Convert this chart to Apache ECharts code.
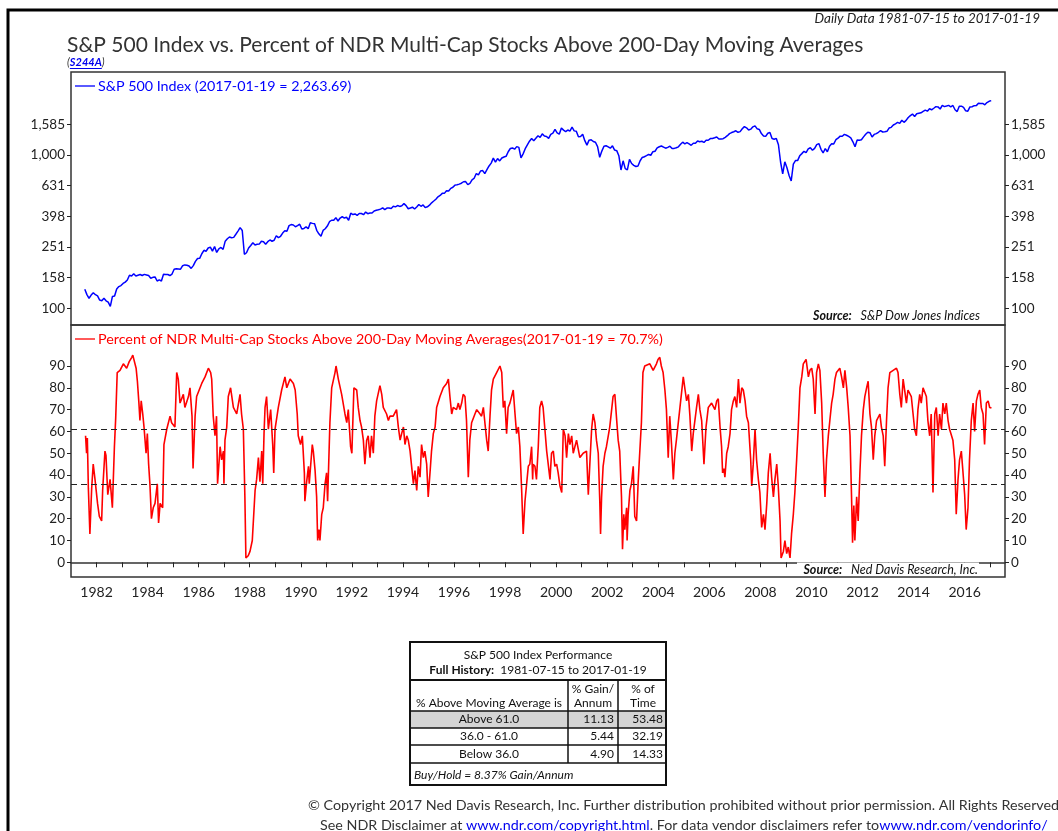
<!DOCTYPE html>
<html>
<head>
<meta charset="utf-8">
<title>S&P 500 Index vs. Percent of NDR Multi-Cap Stocks Above 200-Day Moving Averages</title>
<script src="https://cdn.jsdelivr.net/npm/echarts@6.0.0/dist/echarts.min.js"></script>
<style>
  html, body { margin: 0; padding: 0; background: #fff; }
  #chart { width: 1058px; height: 831px; }
</style>
</head>
<body>
<div id="chart"></div>
<script>
const FONT = 'Lato, "Noto Sans", sans-serif'

// S&P 500, one value a month, July 1981 .. January 2017
const spxStart = 1981.54
const spxValues = [
  133, 122.8, 116.2, 121.9, 126.4, 122.6,
  120.4, 113.1, 112.0, 116.4, 111.9, 109.6, 103.0, 119.5, 120.4, 133.7, 138.5, 140.6,
  145.3, 148.1, 153.0, 164.4, 162.4, 168.1, 162.6, 164.4, 166.1, 163.6, 166.4, 164.9,
  163.4, 157.1, 159.2, 160.1, 150.6, 153.2, 150.7, 166.7, 166.1, 166.1, 163.6, 167.2,
  179.6, 181.2, 180.7, 179.8, 189.6, 191.9, 190.9, 188.6, 182.1, 189.8, 202.2, 211.3,
  211.8, 226.9, 238.9, 235.5, 247.4, 250.8, 236.1, 252.9, 231.3, 244.0, 249.2, 242.2,
  274.1, 284.2, 291.7, 288.4, 290.1, 304.0, 318.7, 336.0, 321.8, 225.0, 230.3, 247.1,
  257.1, 267.8, 258.9, 261.3, 262.2, 273.5, 272.0, 261.5, 271.9, 279.0, 273.7, 277.7,
  297.5, 288.9, 294.9, 309.6, 320.5, 318.0, 346.1, 351.5, 349.2, 340.4, 346.0, 353.4,
  329.1, 331.9, 339.9, 330.8, 361.2, 358.0, 356.2, 322.6, 306.1, 295.5, 322.2, 330.2,
  343.9, 367.1, 375.2, 375.3, 389.8, 371.2, 387.8, 395.4, 387.9, 392.5, 375.2, 417.1,
  408.8, 412.7, 403.7, 415.0, 415.4, 408.1, 424.2, 414.0, 417.8, 418.7, 431.4, 435.7,
  438.8, 443.4, 451.7, 440.2, 450.2, 450.5, 448.1, 463.6, 458.9, 467.8, 461.8, 466.5,
  481.6, 467.1, 445.8, 450.9, 456.5, 444.3, 458.3, 475.5, 462.7, 472.4, 453.7, 459.3,
  470.4, 487.4, 500.7, 514.7, 533.4, 544.8, 562.1, 561.9, 584.4, 581.5, 605.4, 615.9,
  636.0, 640.4, 645.5, 654.2, 669.1, 670.6, 640.0, 652.0, 687.3, 705.3, 757.0, 740.7,
  786.2, 790.8, 757.1, 801.3, 848.3, 885.1, 954.3, 899.5, 947.3, 914.6, 955.4, 970.4,
  980.3, 1049.3, 1101.8, 1111.8, 1090.8, 1133.8, 1120.7, 957.3, 1017.0, 1098.7, 1163.6, 1229.2,
  1279.6, 1238.3, 1286.4, 1335.2, 1301.8, 1372.7, 1328.7, 1320.4, 1282.7, 1362.9, 1389.0, 1469.3,
  1394.5, 1366.4, 1498.6, 1452.4, 1420.6, 1454.6, 1430.8, 1517.7, 1436.5, 1429.4, 1315.2, 1320.3,
  1366.0, 1239.9, 1160.3, 1249.5, 1255.8, 1224.4, 1211.2, 1133.6, 966.0, 1059.8, 1139.5, 1148.1,
  1130.2, 1106.7, 1147.4, 1076.9, 1067.1, 989.8, 798.0, 916.1, 815.3, 800.0, 936.3, 879.8,
  855.7, 841.2, 848.2, 916.9, 963.6, 974.5, 990.3, 1008.0, 996.0, 1050.7, 1058.2, 1111.9,
  1131.1, 1144.9, 1126.2, 1107.3, 1120.7, 1140.8, 1101.7, 1104.2, 1114.6, 1130.2, 1173.8, 1211.9,
  1181.3, 1203.6, 1180.6, 1156.9, 1191.5, 1191.3, 1234.2, 1220.3, 1228.8, 1207.0, 1249.5, 1248.3,
  1280.1, 1280.7, 1294.8, 1310.6, 1270.1, 1270.2, 1276.7, 1303.8, 1335.9, 1377.9, 1400.6, 1418.3,
  1438.2, 1406.8, 1420.9, 1482.4, 1530.6, 1503.4, 1455.3, 1474.0, 1526.8, 1549.4, 1481.1, 1468.4,
  1378.6, 1330.6, 1322.7, 1385.6, 1400.4, 1280.0, 1267.4, 1282.8, 1166.4, 900.0, 752.4, 903.3,
  825.9, 735.1, 676.5, 872.8, 919.1, 919.3, 987.5, 1020.6, 1057.1, 1036.2, 1095.6, 1115.1,
  1073.9, 1104.5, 1169.4, 1186.7, 1089.4, 1030.7, 1101.6, 1049.3, 1141.2, 1183.3, 1180.6, 1257.6,
  1286.1, 1327.2, 1325.8, 1363.6, 1345.2, 1320.6, 1292.3, 1218.9, 1131.4, 1253.3, 1247.0, 1257.6,
  1312.4, 1365.7, 1408.5, 1397.9, 1310.3, 1362.2, 1379.3, 1406.6, 1440.7, 1412.2, 1416.2, 1426.2,
  1498.1, 1514.7, 1569.2, 1597.6, 1630.7, 1606.3, 1685.7, 1633.0, 1681.6, 1756.5, 1805.8, 1848.4,
  1782.6, 1859.5, 1872.3, 1884.0, 1923.6, 1960.2, 1930.7, 2003.4, 1972.3, 2018.1, 2067.6, 2058.9,
  1995.0, 2104.5, 2067.9, 2085.5, 2107.4, 2063.1, 2103.8, 1972.2, 1920.0, 2079.4, 2080.4, 2043.9,
  1940.2, 1932.2, 2059.7, 2065.3, 2097.0, 2098.9, 2173.6, 2171.0, 2168.3, 2126.2, 2198.8, 2238.8,
  2263.69
]

// percent of stocks above their 200-day average
const pctYears = [
  1981.57, 1981.61, 1981.64, 1981.68, 1981.74, 1981.81, 1981.87, 1981.94,
  1982.04, 1982.11, 1982.20, 1982.24, 1982.33, 1982.37, 1982.44, 1982.53, 1982.62, 1982.70, 1982.75, 1982.81, 1982.92,
  1983.05, 1983.18, 1983.28, 1983.38, 1983.42, 1983.55, 1983.60, 1983.66, 1983.70, 1983.75, 1983.81, 1983.86, 1983.94, 1983.99,
  1984.04, 1984.09, 1984.15, 1984.22, 1984.29, 1984.38, 1984.43, 1984.49, 1984.55, 1984.59, 1984.64, 1984.75, 1984.88, 1984.94,
  1985.07, 1985.14, 1985.20, 1985.27, 1985.40, 1985.46, 1985.60, 1985.66, 1985.74, 1985.78, 1985.86, 1985.92,
  1986.12, 1986.25, 1986.38, 1986.47, 1986.51, 1986.57, 1986.64, 1986.70, 1986.74, 1986.84, 1986.90, 1986.97, 1986.99,
  1987.03, 1987.10, 1987.16, 1987.25, 1987.36, 1987.49, 1987.62, 1987.68, 1987.75, 1987.81, 1987.85, 1987.94,
  1988.01, 1988.10, 1988.21, 1988.27, 1988.34, 1988.40, 1988.47, 1988.51, 1988.56, 1988.60, 1988.66, 1988.73, 1988.82, 1988.90, 1988.94, 1988.99,
  1989.12, 1989.25, 1989.38, 1989.45, 1989.58, 1989.71, 1989.78, 1989.86, 1989.90, 1989.99,
  1990.06, 1990.14, 1990.16, 1990.23, 1990.30, 1990.33, 1990.45, 1990.49, 1990.56, 1990.62, 1990.66, 1990.71, 1990.75, 1990.82, 1990.88, 1990.95,
  1991.01, 1991.05, 1991.14, 1991.21, 1991.34, 1991.38, 1991.47, 1991.60, 1991.73, 1991.80, 1991.86, 1991.95,
  1992.00, 1992.08, 1992.19, 1992.25, 1992.32, 1992.38, 1992.45, 1992.51, 1992.58, 1992.64, 1992.71, 1992.77, 1992.84, 1992.90, 1992.97,
  1993.10, 1993.17, 1993.23, 1993.36, 1993.43, 1993.49, 1993.62, 1993.75, 1993.82, 1993.89, 1993.95,
  1994.02, 1994.08, 1994.15, 1994.21, 1994.28, 1994.34, 1994.41, 1994.47, 1994.54, 1994.60, 1994.67, 1994.73, 1994.80, 1994.86, 1994.93, 1994.99,
  1995.06, 1995.12, 1995.19, 1995.26, 1995.32, 1995.45, 1995.58, 1995.71, 1995.78, 1995.84, 1995.91, 1995.97,
  1996.10, 1996.17, 1996.23, 1996.30, 1996.36, 1996.43, 1996.49, 1996.56, 1996.62, 1996.69, 1996.82, 1996.89,
  1997.02, 1997.08, 1997.15, 1997.21, 1997.28, 1997.34, 1997.41, 1997.47, 1997.54, 1997.67, 1997.80, 1997.87, 1997.93, 1997.99,
  1998.06, 1998.12, 1998.19, 1998.32, 1998.39, 1998.45, 1998.52, 1998.58, 1998.65, 1998.71, 1998.78, 1998.85, 1998.91, 1998.97,
  1999.04, 1999.08, 1999.10, 1999.17, 1999.23, 1999.30, 1999.36, 1999.43, 1999.49, 1999.56, 1999.63, 1999.69, 1999.76, 1999.82, 1999.89, 1999.95,
  2000.02, 2000.08, 2000.15, 2000.22, 2000.28, 2000.35, 2000.41, 2000.48, 2000.54, 2000.61, 2000.67, 2000.80, 2000.93,
  2001.06, 2001.19, 2001.26, 2001.32, 2001.39, 2001.45, 2001.52, 2001.58, 2001.65, 2001.71, 2001.74, 2001.78, 2001.84, 2001.91, 2001.97,
  2002.10, 2002.23, 2002.30, 2002.36, 2002.43, 2002.49, 2002.56, 2002.60, 2002.65, 2002.69, 2002.76, 2002.78, 2002.82, 2002.89, 2002.95,
  2003.02, 2003.08, 2003.15, 2003.21, 2003.25, 2003.34, 2003.40, 2003.47, 2003.67, 2003.80, 2003.93, 2003.99,
  2004.06, 2004.12, 2004.19, 2004.26, 2004.32, 2004.39, 2004.45, 2004.52, 2004.59, 2004.65, 2004.71, 2004.85, 2004.98,
  2005.05, 2005.11, 2005.18, 2005.24, 2005.31, 2005.37, 2005.50, 2005.57, 2005.63, 2005.70, 2005.79, 2005.87, 2005.96,
  2006.09, 2006.22, 2006.29, 2006.35, 2006.42, 2006.48, 2006.52, 2006.57, 2006.61, 2006.68, 2006.74, 2006.81, 2006.87, 2006.94,
  2007.00, 2007.07, 2007.14, 2007.20, 2007.27, 2007.33, 2007.40, 2007.46, 2007.53, 2007.62, 2007.66, 2007.72, 2007.79, 2007.85, 2007.92, 2007.98,
  2008.05, 2008.12, 2008.18, 2008.25, 2008.31, 2008.38, 2008.44, 2008.51, 2008.57, 2008.64, 2008.70, 2008.77, 2008.81, 2008.90, 2008.96,
  2009.03, 2009.09, 2009.16, 2009.22, 2009.29, 2009.35, 2009.42, 2009.48, 2009.55, 2009.62, 2009.68, 2009.79, 2009.88, 2009.94,
  2010.01, 2010.07, 2010.14, 2010.20, 2010.27, 2010.33, 2010.40, 2010.46, 2010.53, 2010.59, 2010.66, 2010.72, 2010.79, 2010.85, 2010.92, 2010.98,
  2011.11, 2011.18, 2011.25, 2011.31, 2011.38, 2011.44, 2011.51, 2011.57, 2011.61, 2011.66, 2011.70, 2011.77, 2011.83, 2011.90, 2011.96,
  2012.03, 2012.09, 2012.16, 2012.22, 2012.29, 2012.35, 2012.42, 2012.48, 2012.55, 2012.68, 2012.74, 2012.81, 2012.87, 2012.94,
  2013.00, 2013.07, 2013.20, 2013.33, 2013.39, 2013.46, 2013.52, 2013.59, 2013.72, 2013.78, 2013.91, 2013.98,
  2014.04, 2014.11, 2014.17, 2014.24, 2014.30, 2014.37, 2014.50, 2014.56, 2014.63, 2014.69, 2014.76, 2014.83, 2014.89, 2014.96,
  2015.02, 2015.09, 2015.15, 2015.22, 2015.28, 2015.35, 2015.41, 2015.54, 2015.61, 2015.67, 2015.74, 2015.80, 2015.87, 2015.93,
  2016.00, 2016.06, 2016.13, 2016.19, 2016.26, 2016.33, 2016.39, 2016.46, 2016.52, 2016.59, 2016.65, 2016.72, 2016.78, 2016.85, 2016.92, 2016.98, 2017.05
]
const pctValues = [
  58, 50, 57, 34, 13, 34, 45, 38,
  27, 21, 19, 33, 51, 49, 31, 38, 25, 53, 66, 87, 88,
  91, 89, 92, 94, 95, 89, 83, 73, 65, 74, 68, 62, 50, 59,
  45, 36, 20, 25, 27, 36, 18, 27, 27, 25, 54, 61, 67, 64,
  62, 87, 84, 73, 77, 71, 76, 80, 67, 43, 67, 76,
  82, 85, 89, 87, 84, 67, 58, 67, 36, 53, 47, 51, 36,
  56, 62, 76, 80, 71, 68, 77, 68, 61, 30, 2, 3,
  5, 10, 33, 38, 48, 37, 51, 36, 59, 71, 76, 61, 70, 54, 41, 61,
  71, 79, 85, 80, 84, 82, 79, 68, 58, 54,
  58, 41, 28, 37, 44, 36, 54, 51, 42, 30, 10, 15, 10, 22, 25, 36,
  41, 28, 64, 80, 87, 90, 84, 77, 68, 64, 70, 53,
  50, 80, 79, 71, 65, 62, 56, 45, 56, 58, 48, 58, 50, 67, 74,
  81, 77, 71, 68, 65, 67, 67, 70, 62, 56, 59,
  62, 54, 58, 56, 51, 44, 36, 42, 33, 44, 39, 54, 48, 51, 45, 30,
  41, 51, 59, 62, 71, 76, 80, 82, 84, 76, 68, 71,
  70, 73, 70, 73, 77, 76, 65, 39, 56, 64, 68, 70,
  68, 67, 71, 64, 56, 51, 67, 79, 84, 87, 90, 87, 71, 74,
  59, 71, 73, 79, 68, 59, 62, 53, 33, 13, 28, 28, 44, 45,
  53, 38, 45, 44, 38, 53, 71, 74, 71, 61, 51, 45, 38, 50, 51, 44,
  45, 41, 35, 32, 61, 58, 48, 59, 54, 58, 50, 56, 48,
  50, 51, 31, 45, 61, 68, 64, 56, 50, 28, 13, 30, 44, 50, 53,
  62, 76, 77, 67, 56, 51, 30, 6, 22, 15, 25, 10, 22, 33, 36,
  44, 21, 19, 36, 45, 64, 87, 90, 91, 88, 91, 93,
  94, 90, 87, 79, 70, 48, 67, 54, 38, 50, 56, 71, 85,
  79, 74, 77, 67, 51, 59, 71, 77, 70, 65, 45, 62, 71,
  73, 70, 74, 75, 62, 53, 41, 43, 39, 50, 53, 59, 70, 74,
  76, 71, 84, 73, 80, 79, 74, 67, 64, 47, 35, 45, 61, 47, 38, 32,
  16, 22, 15, 27, 41, 50, 39, 30, 38, 45, 35, 19, 2, 5, 10,
  4, 7, 2, 13, 22, 32, 47, 61, 80, 85, 91, 93, 85, 88,
  89, 84, 68, 87, 91, 88, 73, 50, 30, 47, 58, 65, 73, 77, 84, 87,
  89, 85, 80, 88, 80, 71, 58, 30, 9, 26, 10, 30, 19, 42, 58,
  70, 76, 80, 83, 68, 62, 47, 58, 65, 68, 62, 58, 44, 65,
  80, 87, 88, 89, 87, 77, 71, 84, 73, 79, 76, 68,
  61, 58, 70, 77, 73, 80, 76, 65, 58, 68, 32, 68, 71, 58,
  68, 61, 73, 68, 73, 65, 61, 56, 47, 22, 38, 47, 51, 42,
  31, 15, 25, 47, 65, 73, 60, 74, 77, 79, 71, 68, 54, 73, 74, 71, 70.7
]

const thresholds = [61, 36]
const spxTicks = [100, 158.49, 251.19, 398.11, 630.96, 1000, 1584.89]
const pctTicks = [0, 10, 20, 30, 40, 50, 60, 70, 80, 90]
const yearTicks = [1982, 1983, 1984, 1985, 1986, 1987, 1988, 1989, 1990, 1991, 1992, 1993,
  1994, 1995, 1996, 1997, 1998, 1999, 2000, 2001, 2002, 2003, 2004, 2005, 2006, 2007,
  2008, 2009, 2010, 2011, 2012, 2013, 2014, 2015, 2016, 2017]
const yearLabels = [1982, 1984, 1986, 1988, 1990, 1992, 1994, 1996, 1998, 2000, 2002,
  2004, 2006, 2008, 2010, 2012, 2014, 2016]

// performance table
const tableRows = ['Above 61.0', '36.0 - 61.0', 'Below 36.0']
const gainPerAnnum = ['11.13', '5.44', '4.90']
const pctOfTime = ['53.48', '32.19', '14.33']

const spxData = spxValues.map((v, i) => [spxStart + i / 12, v])
const pctData = pctYears.map((y, i) => [y, pctValues[i]])

const ctx = document.createElement('canvas').getContext('2d')
const measure = (text, font) => { ctx.font = font; return ctx.measureText(text).width }

// one line of text made of several runs, links underlined
const textRun = (x, y, parts, font, align) => {
  const widths = parts.map(p => measure(p.text, p.font || font))
  const total = widths.reduce((s, w) => s + w, 0)
  let cx = align === 'right' ? x - total : align === 'center' ? x - total / 2 : x
  const els = []
  parts.forEach((p, i) => {
    const f = p.font || font
    els.push({ type: 'text', x: cx, y, z: 50, style: { text: p.text, font: f, fill: p.color || '#333', verticalAlign: 'middle' } })
    if (p.link) els.push({ type: 'line', z: 50, shape: { x1: cx, y1: y + 6.5, x2: cx + widths[i], y2: y + 6.5 }, style: { stroke: p.color, lineWidth: 1 } })
    cx += widths[i]
  })
  return els
}

const txt = (x, y, text, font, align, fill) => ({
  type: 'text', x, y, z: 50,
  style: { text, font, fill: fill || '#111', textAlign: align || 'left', verticalAlign: 'middle' }
})

const hline = (x1, x2, y, w) => ({ type: 'line', z: 40, shape: { x1, y1: y, x2, y2: y }, style: { stroke: '#111', lineWidth: w || 1.5 } })
const vline = (x, y1, y2, w) => ({ type: 'line', z: 40, shape: { x1: x, y1, x2: x, y2 }, style: { stroke: '#111', lineWidth: w || 1.5 } })

const tFont = '12px ' + FONT
const rowY = [719, 736, 754]
const table = [
  { type: 'rect', z: 30, shape: { x: 410, y: 642, width: 256, height: 143 }, style: { fill: '#fff', stroke: '#111', lineWidth: 2 } },
  { type: 'rect', z: 35, shape: { x: 411, y: 711, width: 254, height: 17 }, style: { fill: '#d4d4d4' } },
  hline(410, 666, 680, 2), hline(410, 666, 711), hline(410, 666, 728), hline(410, 666, 745), hline(410, 666, 763),
  vline(568, 680, 763), vline(618, 680, 763),
  txt(538, 655, 'S&P 500 Index Performance', tFont, 'center'),
  ...textRun(538, 670, [
    { text: 'Full History:', font: 'bold ' + tFont, color: '#111' },
    { text: '  1981-07-15 to 2017-01-19', color: '#111' }
  ], tFont, 'center'),
  txt(489, 703, '% Above Moving Average is', tFont, 'center'),
  txt(593, 689, '% Gain/', tFont, 'center'), txt(593, 703, 'Annum', tFont, 'center'),
  txt(643, 689, '% of', tFont, 'center'), txt(643, 703, 'Time', tFont, 'center'),
  ...tableRows.map((r, i) => txt(489, rowY[i], r, tFont, 'center')),
  ...gainPerAnnum.map((v, i) => txt(614, rowY[i], v, tFont, 'right')),
  ...pctOfTime.map((v, i) => txt(663, rowY[i], v, tFont, 'right')),
  txt(414, 775, 'Buy/Hold = 8.37% Gain/Annum', 'italic ' + tFont, 'left')
]

// source notes sit on a small white patch so nothing shows through the lettering
const sFont = 'italic 12.5px ' + FONT
const sourceText = (x, y, name) => [
  { type: 'rect', z: 45, shape: { x: x - 181, y: y - 7, width: 182, height: 12 }, style: { fill: '#fff' } },
  ...textRun(x, y, [
    { text: 'Source:', font: 'italic bold 12.5px ' + FONT, color: '#111' },
    { text: '   ' + name, color: '#111' }
  ], sFont, 'right')
]

const cFont = '14.3px ' + FONT
const graphic = [
  { type: 'rect', z: 100, shape: { x: 8, y: 10, width: 1200, height: 1000 }, style: { fill: 'none', stroke: '#000', lineWidth: 3 } },
  txt(1040, 19, 'Daily Data 1981-07-15 to 2017-01-19', 'italic 13.5px ' + FONT, 'right', '#222'),
  txt(67, 45, 'S&P 500 Index vs. Percent of NDR Multi-Cap Stocks Above 200-Day Moving Averages', '21px ' + FONT, 'left', '#333'),
  ...textRun(67, 62, [
    { text: '(' },
    { text: 'S244A', color: '#0000ee', link: true, font: 'italic bold 11px ' + FONT },
    { text: ')' }
  ], 'italic 11px ' + FONT),
  { type: 'line', z: 50, shape: { x1: 75, y1: 86, x2: 95, y2: 86 }, style: { stroke: '#0000ff', lineWidth: 1.3 } },
  txt(98, 86, 'S&P 500 Index (2017-01-19 = 2,263.69)', '14.3px ' + FONT, 'left', '#0000ff'),
  { type: 'line', z: 50, shape: { x1: 75, y1: 339, x2: 95, y2: 339 }, style: { stroke: '#ff0000', lineWidth: 1.3 } },
  txt(98, 339, 'Percent of NDR Multi-Cap Stocks Above 200-Day Moving Averages(2017-01-19 = 70.7%)', '14.3px ' + FONT, 'left', '#ff0000'),
  ...sourceText(980, 316, 'S&P Dow Jones Indices'),
  ...sourceText(978, 569.5, 'Ned Davis Research, Inc.'),
  ...table,
  txt(308, 805, '\u00a9 Copyright 2017 Ned Davis Research, Inc. Further distribution prohibited without prior permission. All Rights Reserved.', cFont, 'left', '#333'),
  ...textRun(320, 825, [
    { text: 'See NDR Disclaimer at ' },
    { text: 'www.ndr.com/copyright.html', color: '#0000ee', link: true },
    { text: '. For data vendor disclaimers refer to' },
    { text: 'www.ndr.com/vendorinfo/', color: '#0000ee', link: true }
  ], cFont)
]

const label = { color: '#222', fontSize: 13.5, fontFamily: FONT }
const tick = { lineStyle: { color: '#222', width: 1 } }
const fmtSpx = v => Math.round(v).toLocaleString('en-US')

const spxAxis = position => ({
  gridIndex: 0, type: 'log', logBase: 10, min: 77.8, max: 3478, position,
  axisLine: { show: false },
  axisTick: { show: true, inside: false, length: 4, customValues: spxTicks, ...tick },
  axisLabel: { ...label, margin: 6, customValues: spxTicks, formatter: fmtSpx },
  splitLine: { show: false }
})
const pctAxis = position => ({
  gridIndex: 1, type: 'value', min: -6.74, max: 108.8, position,
  axisLine: { show: false },
  axisTick: { show: true, inside: false, length: 4, customValues: pctTicks, ...tick },
  axisLabel: { ...label, margin: 6, customValues: pctTicks },
  splitLine: { show: false }
})

const chart = echarts.init(document.getElementById('chart'), null, { renderer: 'canvas' })
chart.setOption({
  animation: false,
  backgroundColor: '#fff',
  grid: [
    { left: 71, top: 72, width: 934, height: 253, show: true, borderColor: '#333', borderWidth: 1.5, outerBoundsMode: 'none' },
    { left: 71, top: 325, width: 934, height: 252, show: true, borderColor: '#333', borderWidth: 1.5, outerBoundsMode: 'none' }
  ],
  xAxis: [
    { gridIndex: 0, type: 'value', min: 1981, max: 2017.58, show: false },
    {
      gridIndex: 1, type: 'value', min: 1981, max: 2017.58,
      axisLine: { show: true, lineStyle: { color: '#333', width: 1.5 } },
      axisTick: { show: true, length: 5, customValues: yearTicks, ...tick },
      axisLabel: { ...label, fontSize: 14, margin: 8, customValues: yearLabels, formatter: v => String(Math.round(v)) },
      splitLine: { show: false }
    }
  ],
  yAxis: [spxAxis('left'), spxAxis('right'), pctAxis('left'), pctAxis('right')],
  series: [
    {
      name: 'S&P 500 Index', type: 'line', xAxisIndex: 0, yAxisIndex: 0,
      data: spxData, showSymbol: false, symbol: 'none',
      lineStyle: { color: '#0000ff', width: 1.5 }
    },
    {
      name: 'Percent Above 200-Day', type: 'line', xAxisIndex: 1, yAxisIndex: 2,
      data: pctData, showSymbol: false, symbol: 'none',
      lineStyle: { color: '#ff0000', width: 1.6 },
      markLine: {
        silent: true, symbol: 'none', label: { show: false },
        lineStyle: { type: [6, 4], color: '#222', width: 1.2 },
        data: thresholds.map(t => ({ yAxis: t }))
      }
    }
  ],
  graphic
})
</script>
</body>
</html>
